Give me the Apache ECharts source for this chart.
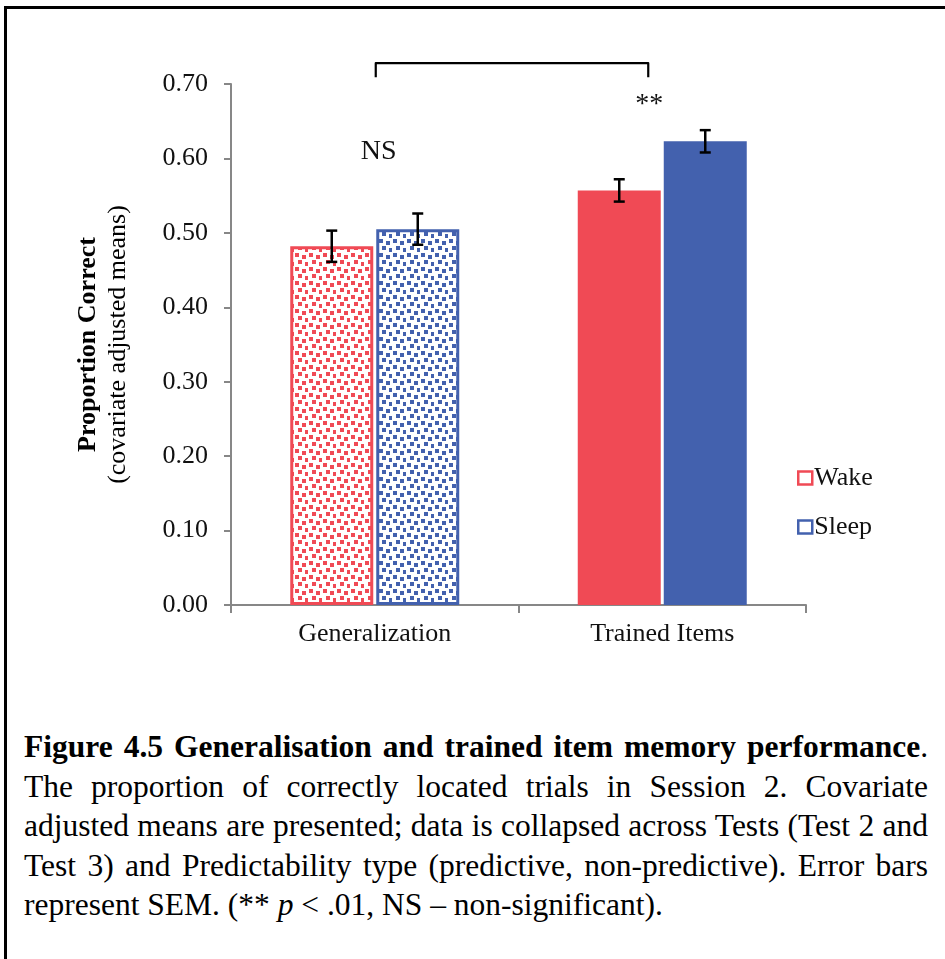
<!DOCTYPE html>
<html>
<head>
<meta charset="utf-8">
<script src="https://cdn.jsdelivr.net/npm/echarts@6/dist/echarts.min.js"></script>
<style>
  body { margin: 0; background: #fff; }
  #frame { position: absolute; left: 4px; top: 6px; width: 1000px; height: 1000px;
    border-top: 3px solid #000; border-left: 3px solid #000; }
  #main { position: absolute; left: 0; top: 0; width: 945px; height: 700px; }
  #caption { position: absolute; left: 24px; top: 727px; width: 904px;
    font-family: 'Liberation Serif', serif; font-size: 31.5px; line-height: 39.5px; color: #000; }
  #caption div { text-align: justify; text-align-last: justify; white-space: nowrap; }
  #caption div.last { text-align-last: left; }
</style>
</head>
<body>
<div id="frame"></div>
<div id="main"></div>
<div id="caption">
  <div><b>Figure 4.5 Generalisation and trained item memory performance</b>.</div>
  <div>The proportion of correctly located trials in Session 2. Covariate</div>
  <div>adjusted means are presented; data is collapsed across Tests (Test 2 and</div>
  <div>Test 3) and Predictability type (predictive, non-predictive). Error bars</div>
  <div class="last">represent SEM. (** <i>p</i> &lt; .01, NS – non-significant).</div>
</div>
<script>
// 数据
var categories = ['Generalization', 'Trained Items'];
var wakeMeans = [0.482, 0.557];
var sleepMeans = [0.505, 0.623];
var wakeSem = [0.021, 0.015];
var sleepSem = [0.021, 0.015];
var yTicks = [0, 0.1, 0.2, 0.3, 0.4, 0.5, 0.6, 0.7];

var RED = '#F04A55';
var BLUE = '#4361AE';
var FONT = 'Liberation Serif';
var BAR_W = 83;
var BAR_GAP = 3;

// 点状填充 (Generalization)
function makePattern(color) {
  var c = document.createElement('canvas');
  c.width = 14; c.height = 14;
  var ctx = c.getContext('2d');
  ctx.fillStyle = '#fff';
  ctx.fillRect(0, 0, 14, 14);
  ctx.fillStyle = color;
  [[1, 1], [8, 3], [4, 8], [11, 10]].forEach(function (p) {
    ctx.fillRect(p[0], p[1], 4, 4);
  });
  return { image: c, repeat: 'repeat' };
}

function barData(means, color) {
  return means.map(function (v, i) {
    if (i === 0) {
      return { value: v, itemStyle: { color: makePattern(color), borderColor: color, borderWidth: 3 } };
    }
    return { value: v };
  });
}

function errData(means, sem) {
  return means.map(function (v, i) { return [i, v - sem[i], v + sem[i]]; });
}

function errRender(offset) {
  return function (params, api) {
    var lo = api.coord([api.value(0), api.value(1)]);
    var hi = api.coord([api.value(0), api.value(2)]);
    var x = lo[0] + offset;
    var cap = 5.5;
    var style = { stroke: '#000', lineWidth: 2.5 };
    return {
      type: 'group',
      children: [
        { type: 'line', shape: { x1: x, y1: lo[1], x2: x, y2: hi[1] }, style: style },
        { type: 'line', shape: { x1: x - cap, y1: lo[1], x2: x + cap, y2: lo[1] }, style: style },
        { type: 'line', shape: { x1: x - cap, y1: hi[1], x2: x + cap, y2: hi[1] }, style: style }
      ]
    };
  };
}

var off = (BAR_W + BAR_GAP) / 2;

var myChart = echarts.init(document.getElementById('main'));
myChart.setOption({
  animation: false,
  textStyle: { fontFamily: FONT },
  grid: { left: 231, right: 139, top: 84, bottom: 95 },
  legend: {
    orient: 'vertical',
    left: 792,
    top: 460,
    itemWidth: 14,
    itemHeight: 13,
    itemGap: 23,
    icon: 'rect',
    textStyle: { fontFamily: FONT, fontSize: 26, color: '#111', lineHeight: 26, padding: [0, 0, 0, -3] },
    data: [
      { name: 'Wake', itemStyle: { color: '#fff', borderColor: RED, borderWidth: 2.5 } },
      { name: 'Sleep', itemStyle: { color: '#fff', borderColor: BLUE, borderWidth: 2.5 } }
    ]
  },
  xAxis: {
    type: 'category',
    data: categories,
    axisLine: { lineStyle: { color: '#878787', width: 2 } },
    axisTick: { show: true, length: 8, lineStyle: { color: '#878787', width: 2 } },
    axisLabel: { fontFamily: FONT, fontSize: 26, color: '#111', margin: 16 }
  },
  yAxis: {
    type: 'value',
    min: 0,
    max: 0.7,
    interval: 0.1,
    name: '{b|Proportion Correct}\n{n|(covariate adjusted means)}',
    nameLocation: 'middle',
    nameRotate: 90,
    nameGap: 98,
    nameTextStyle: {
      rich: {
        b: { fontFamily: FONT, fontSize: 26, fontWeight: 'bold', color: '#000', lineHeight: 30 },
        n: { fontFamily: FONT, fontSize: 26, color: '#000', lineHeight: 30 }
      }
    },
    axisLine: { show: true, lineStyle: { color: '#878787', width: 2 } },
    axisTick: { show: true, length: 7, lineStyle: { color: '#878787', width: 2 } },
    splitLine: { show: false },
    axisLabel: {
      fontFamily: FONT, fontSize: 26, color: '#111', margin: 23,
      customValues: yTicks,
      formatter: function (v) { return v.toFixed(2); }
    }
  },
  series: [
    {
      name: 'Wake', type: 'bar', barWidth: BAR_W, barGap: (BAR_GAP / BAR_W * 100) + '%',
      itemStyle: { color: RED }, emphasis: { disabled: true },
      data: barData(wakeMeans, RED)
    },
    {
      name: 'Sleep', type: 'bar', barWidth: BAR_W,
      itemStyle: { color: BLUE }, emphasis: { disabled: true },
      data: barData(sleepMeans, BLUE)
    },
    {
      type: 'custom', renderItem: errRender(-off), z: 10,
      encode: { x: 0, y: [1, 2] }, data: errData(wakeMeans, wakeSem)
    },
    {
      type: 'custom', renderItem: errRender(off), z: 10,
      encode: { x: 0, y: [1, 2] }, data: errData(sleepMeans, sleepSem)
    }
  ]
});

// 显著性标注
var leftX = myChart.convertToPixel({ xAxisIndex: 0 }, categories[0]);
var rightX = myChart.convertToPixel({ xAxisIndex: 0 }, categories[1]) - 14;
var yTop = myChart.convertToPixel({ yAxisIndex: 0 }, 0.728);
var yLeg = myChart.convertToPixel({ yAxisIndex: 0 }, 0.709);
myChart.setOption({
  graphic: [
    {
      type: 'polyline', z: 20,
      shape: { points: [[leftX + 1, yLeg], [leftX + 1, yTop], [rightX, yTop], [rightX, yLeg]] },
      style: { stroke: '#000', lineWidth: 2.2, fill: null, lineJoin: 'round' }
    },
    {
      type: 'text', z: 20,
      x: leftX + 4, y: myChart.convertToPixel({ yAxisIndex: 0 }, 0.609),
      style: { text: 'NS', fontFamily: FONT, fontSize: 28, fill: '#111', align: 'center', verticalAlign: 'middle' }
    },
    {
      type: 'text', z: 20,
      x: rightX + 1, y: myChart.convertToPixel({ yAxisIndex: 0 }, 0.672),
      style: { text: '**', fontFamily: FONT, fontSize: 28, fill: '#111', align: 'center', verticalAlign: 'middle' }
    }
  ]
});
</script>
</body>
</html>
